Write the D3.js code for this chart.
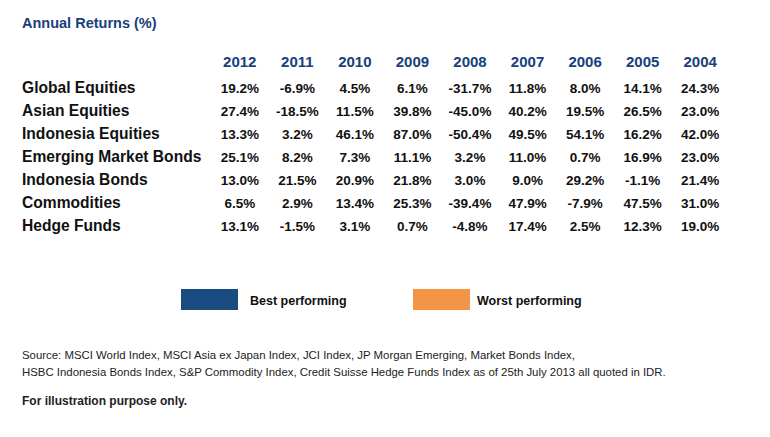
<!DOCTYPE html>
<html><head><meta charset="utf-8">
<script src="https://cdn.jsdelivr.net/npm/d3@7"></script>
<style>body{margin:0;background:#fff}svg{display:block}</style>
</head><body>
<script>
const years = ["2012","2011","2010","2009","2008","2007","2006","2005","2004"];
const assets = ["Global Equities","Asian Equities","Indonesia Equities","Emerging Market Bonds","Indonesia Bonds","Commodities","Hedge Funds"];
const globalEquities = [19.2,-6.9,4.5,6.1,-31.7,11.8,8.0,14.1,24.3];
const asianEquities = [27.4,-18.5,11.5,39.8,-45.0,40.2,19.5,26.5,23.0];
const indonesiaEquities = [13.3,3.2,46.1,87.0,-50.4,49.5,54.1,16.2,42.0];
const emergingMarketBonds = [25.1,8.2,7.3,11.1,3.2,11.0,0.7,16.9,23.0];
const indonesiaBonds = [13.0,21.5,20.9,21.8,3.0,9.0,29.2,-1.1,21.4];
const commodities = [6.5,2.9,13.4,25.3,-39.4,47.9,-7.9,47.5,31.0];
const hedgeFunds = [13.1,-1.5,3.1,0.7,-4.8,17.4,2.5,12.3,19.0];
const legendLabels = ["Best performing","Worst performing"];
const sourceLines = ["Source: MSCI World Index, MSCI Asia ex Japan Index, JCI Index, JP Morgan Emerging, Market Bonds Index,",
 "HSBC Indonesia Bonds Index, S&P Commodity Index, Credit Suisse Hedge Funds Index as of 25th July 2013 all quoted in IDR."];

const values = [globalEquities, asianEquities, indonesiaEquities, emergingMarketBonds, indonesiaBonds, commodities, hedgeFunds];
const navy = "#17407c", legendColors = ["#1a4b80", "#f39447"];

const svg = d3.select("body").append("svg").attr("width",770).attr("height",437)
  .style("font-family","'Liberation Sans', Arial, Helvetica, sans-serif");

svg.append("text").attr("x",22).attr("y",28).attr("fill",navy)
  .attr("font-size",14.5).attr("font-weight","bold")
  .text("Annual Returns (%)");

const x = d3.scaleBand().domain(years).range([211,729]);
const y = d3.scaleBand().domain(assets).range([76,238]);

svg.append("g").selectAll("text").data(years).join("text")
  .attr("x",d=>x(d)+x.bandwidth()/2).attr("y",67).attr("text-anchor","middle")
  .attr("fill",navy).attr("font-size",15).attr("font-weight","bold").text(d=>d);

svg.append("g").selectAll("text").data(assets).join("text")
  .attr("x",22).attr("y",d=>y(d)+y.bandwidth()/2+5)
  .attr("fill","#111").attr("font-size",15.6).attr("font-weight","bold").text(d=>d);

const cells = [];
assets.forEach((a,i)=>years.forEach((yr,j)=>cells.push({a,yr,v:values[i][j]})));
svg.append("g").selectAll("text").data(cells).join("text")
  .attr("x",d=>x(d.yr)+x.bandwidth()/2).attr("y",d=>y(d.a)+y.bandwidth()/2+5)
  .attr("text-anchor","middle").attr("fill","#111").attr("font-size",13.5).attr("font-weight","bold")
  .text(d=>d.v.toFixed(1)+"%");

const lx = d3.scalePoint().domain(legendLabels).range([181,413]);
const lg = svg.append("g").selectAll("g").data(legendLabels).join("g")
  .attr("transform",d=>`translate(${lx(d)},289)`);
lg.append("rect").attr("width",57).attr("height",21).attr("fill",(d,i)=>legendColors[i]);
lg.append("text").attr("x",(d,i)=>i?64:69).attr("y",16).attr("font-size",12.5).attr("font-weight","bold")
  .attr("fill","#111").text(d=>d);

svg.append("g").selectAll("text").data(sourceLines).join("text")
  .attr("x",22).attr("y",(d,i)=>359+i*17).attr("font-size",11.4).attr("fill","#222")
  .text(d=>d);

svg.append("text").attr("x",22).attr("y",405).attr("font-size",12).attr("font-weight","bold").attr("fill","#222")
  .text("For illustration purpose only.");
</script>
</body></html>
